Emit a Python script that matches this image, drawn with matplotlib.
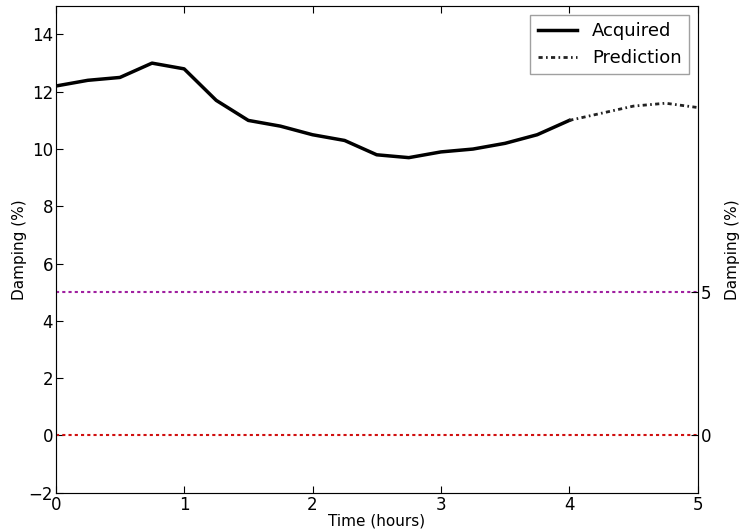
import matplotlib
matplotlib.use('Agg')
import matplotlib.pyplot as plt
import numpy as np

# acquired damping, sampled every 15 minutes
t_acq = [0, 0.25, 0.5, 0.75, 1.0, 1.25, 1.5, 1.75, 2.0, 2.25, 2.5, 2.75, 3.0, 3.25, 3.5, 3.75, 4.0]
damp_acq = [12.2, 12.4, 12.5, 13.0, 12.8, 11.7, 11.0, 10.8, 10.5, 10.3, 9.8, 9.7, 9.9, 10.0, 10.2, 10.5, 11.0]
# predicted continuation
t_pred = [4.0, 4.25, 4.5, 4.75, 5.0]
damp_pred = [11.0, 11.25, 11.5, 11.6, 11.45]
# threshold levels
thresholds = [5, 0]
threshold_colors = ['#a020a0', '#d01010']

fig = plt.figure(figsize=(7.43, 5.31), dpi=100)
ax = fig.add_axes([0.075, 0.072, 0.864, 0.917])

ax.plot(t_acq, damp_acq, color='black', lw=2.5, label='Acquired')
ax.plot(t_pred, damp_pred, color='#222222', lw=2, ls=(0, (1.5, 1.2, 0.6, 1.2)), label='Prediction')
for lvl, c in zip(thresholds, threshold_colors):
    ax.axhline(lvl, color=c, lw=1.5, ls=(0, (1.5, 1.5)))

ax.set_xlim(0, 5)
ax.set_ylim(-2, 15)
ax.set_yticks(np.arange(-2, 15, 2))
ax.set_xlabel('Time (hours)', fontsize=11, labelpad=0)
ax.set_ylabel('Damping (%)', fontsize=11, labelpad=1)
ax.tick_params(labelsize=12, direction='in', length=5, pad=2, top=True)
for s in ax.spines.values():
    s.set_color('#888888')

ax2 = ax.twinx()
ax2.set_ylim(-2, 15)
ax2.set_yticks(thresholds)
ax2.set_ylabel('Damping (%)', fontsize=11, labelpad=10)
ax2.tick_params(labelsize=12, direction='in', length=5, pad=2)

ax.legend(loc='upper right', fontsize=13, handlelength=2.2, fancybox=False, edgecolor='#888888')

fig.savefig('out.png', dpi=100)
